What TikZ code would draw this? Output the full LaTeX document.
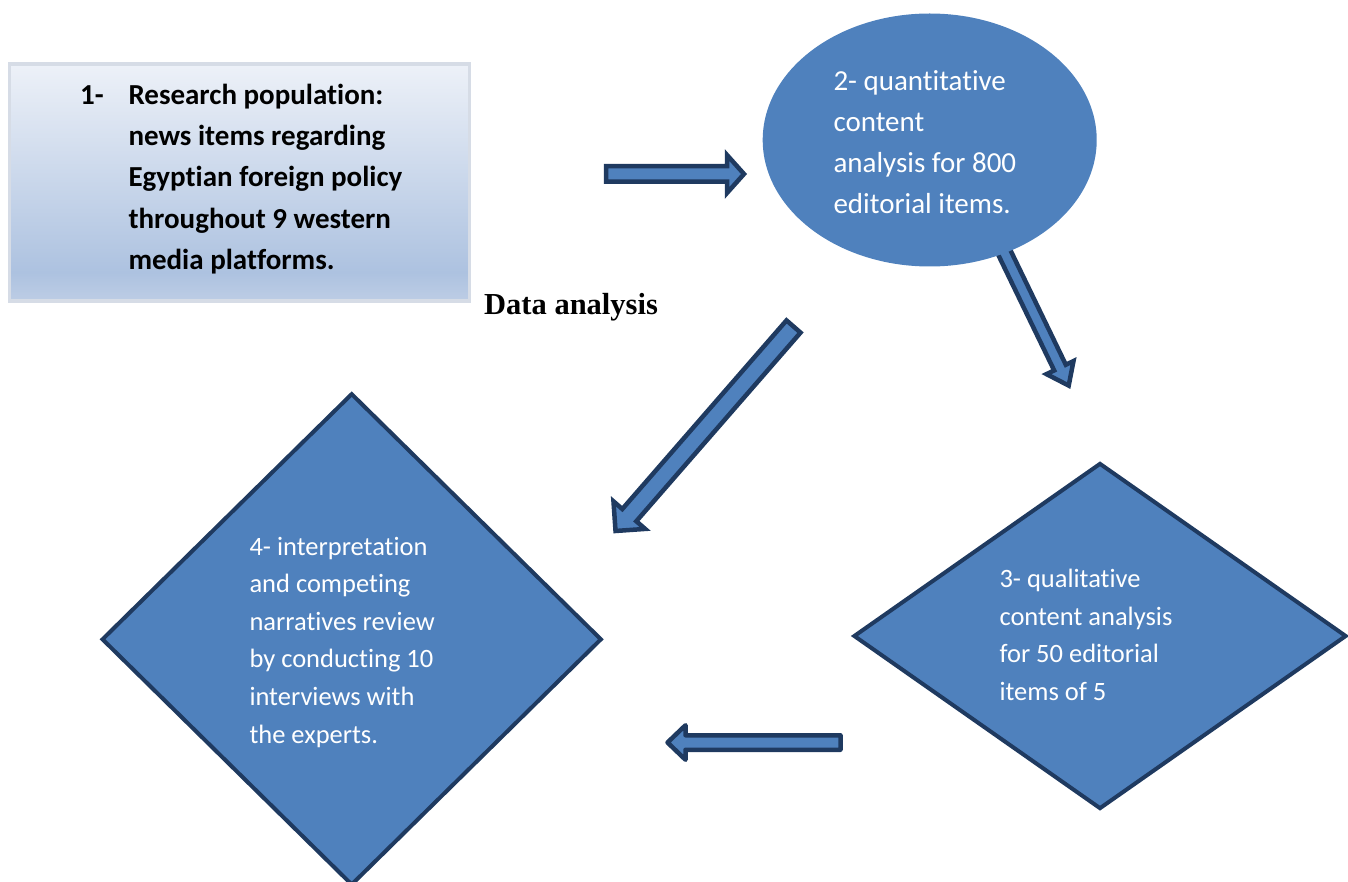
\documentclass[tikz,border=0pt]{standalone}
\usepackage{fontspec}
\setmainfont{Carlito}[Ligatures={NoCommon,NoContextual}, Contextuals=NoAlternate, RawFeature=-dlig]
\newfontfamily\headfont{Liberation Serif}
\usetikzlibrary{shapes.geometric}

\definecolor{shapeblue}{HTML}{4F81BD}
\definecolor{navy}{HTML}{1F3A60}
\definecolor{boxtop}{HTML}{EDF1F8}
\definecolor{boxdark}{HTML}{ADC2E0}
\definecolor{boxlow}{HTML}{BDCDE5}
\definecolor{boxedge}{HTML}{D6DCE6}

% light-to-dark gradient of the research population box
\pgfdeclareverticalshading{popshade}{100bp}{color(0bp)=(boxlow); color(25bp)=(boxlow); color(31bp)=(boxdark); color(75bp)=(boxtop); color(100bp)=(boxtop)}

% left-aligned block of lines whose first baseline is the node's base
\newcommand\textlines[1]{\begin{tabular}[t]{@{}l@{}}#1\end{tabular}}

% outlined block arrow from a tail coordinate to a tip coordinate
% #1 extra options, #2 tail, #3 tip, #4 shaft half width, #5 head half width, #6 head length
\newcommand\blockarrow[6][]{%
  \path (#2); \pgfgetlastxy\baTx\baTy
  \path (#3); \pgfgetlastxy\baHx\baHy
  \pgfmathsetmacro\baAng{atan2(\baHy-\baTy,\baHx-\baTx)}%
  \pgfmathsetmacro\baLen{veclen(\baHx-\baTx,\baHy-\baTy)}%
  \draw[fatarrow,#1,shift={(\baTx,\baTy)},rotate=\baAng]
    (0,#4) -- (\baLen-#6,#4) -- (\baLen-#6,#5) -- (\baLen,0)
    -- (\baLen-#6,-#5) -- (\baLen-#6,-#4) -- (0,-#4) -- cycle;
}

\tikzset{
  popbox/.style={rectangle, draw=boxedge, line width=3.5pt, shade, shading=popshade,
    minimum width=460pt, minimum height=237pt, inner sep=0pt},
  oval/.style={ellipse, fill=shapeblue, minimum width=334pt, minimum height=253pt, inner sep=0pt},
  rhomb/.style={diamond, fill=shapeblue, draw=navy, line width=4pt, inner sep=0pt},
  fatarrow/.style={fill=shapeblue, draw=navy, line width=4.5pt, line join=miter},
  bigtext/.style={anchor=base west, inner sep=0pt, font=\fontsize{29}{41}\selectfont},
  smalltext/.style={anchor=base west, inner sep=0pt, text=white, font=\fontsize{26.5}{37.6}\selectfont},
}

\begin{document}
\begin{tikzpicture}[x=1pt,y=-1pt]
\useasboundingbox (0,0) rectangle (1348,882);

% step 1: research population
\node[popbox] (pop) at (239.5,182.4) {};
\node[bigtext, font=\bfseries\fontsize{29}{41.2}\selectfont] (popnum) at (80,104.5) {1-};
\node[bigtext, font=\bfseries\fontsize{29}{41.2}\selectfont] (poptext) at (128.3,104.5)
  {\textlines{Research population:\\news items regarding\\Egyptian foreign policy\\throughout 9 western\\media platforms.}};

% heading
\node[anchor=base west, inner sep=0pt, font=\headfont\bfseries\fontsize{30.5}{36}\selectfont]
  (heading) at (484,314.3) {Data analysis};

% arrow from step 2 down to step 3 (tail tucked under the oval)
\coordinate (a4t) at (999,241.5);
\coordinate (a4h) at (1068.7,385.6);
\blockarrow{a4t}{a4h}{6.5}{15}{20}

% step 2: quantitative analysis
\node[oval] (quant) at (929.7,140) {};
\node[bigtext, text=white] (quanttext) at (833.3,90.7)
  {\textlines{2- quantitative\\content\\analysis for 800\\editorial items.}};

% step 3: qualitative analysis
\node[rhomb, minimum width=493pt, minimum height=346pt] (qual) at (1100,636) {};
\node[smalltext] (qualtext) at (999.3,587.7)
  {\textlines{3- qualitative\\content analysis\\for 50 editorial\\items of 5}};

% step 4: interpretation
\node[rhomb, minimum width=500pt, minimum height=492pt] (interp) at (351.7,639.3) {};
\node[smalltext] (interptext) at (249.3,555)
  {\textlines{4- interpretation\\and competing\\narratives review\\by conducting 10\\interviews with\\the experts.}};

% remaining block arrows
\coordinate (a1t) at (606,174);
\coordinate (a1h) at (744,174);
\blockarrow{a1t}{a1h}{7.75}{19}{17}

\coordinate (a3t) at (793.5,326.5);
\coordinate (a3h) at (615.5,531);
\blockarrow{a3t}{a3h}{9.3}{21}{21}

\coordinate (a2t) at (840.5,742.5);
\coordinate (a2h) at (667.5,742.5);
\blockarrow[line join=round]{a2t}{a2h}{7.25}{17.25}{18}
\end{tikzpicture}
\end{document}
